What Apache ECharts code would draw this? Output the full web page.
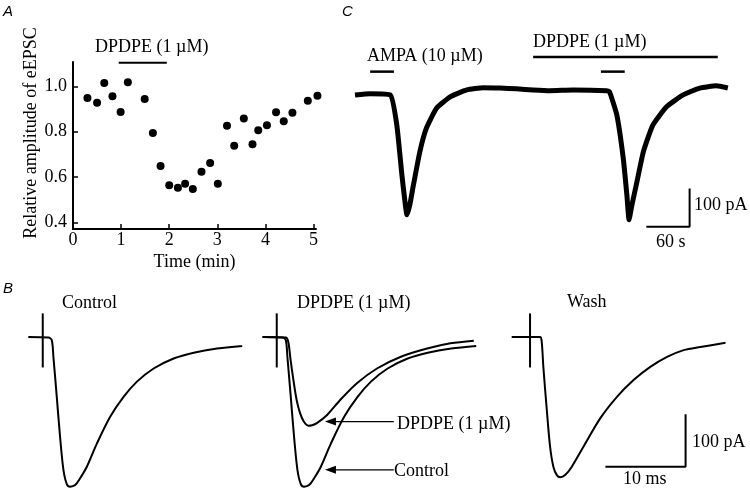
<!DOCTYPE html>
<html>
<head>
<meta charset="utf-8">
<script src="https://cdn.jsdelivr.net/npm/echarts@6/dist/echarts.min.js"></script>
<style>
  html, body { margin: 0; padding: 0; background: #fff; }
  #chart { width: 750px; height: 494px; }
</style>
</head>
<body>
<div id="chart"></div>
<script>
// ---- Panel A: relative eEPSC amplitude over time ----
var timeMin = [0.30, 0.50, 0.65, 0.82, 0.99, 1.14, 1.49, 1.66, 1.82, 2.00, 2.18, 2.33, 2.49, 2.67,
  2.85, 3.01, 3.20, 3.35, 3.55, 3.73, 3.85, 4.03, 4.22, 4.38, 4.56, 4.88, 5.08];
var relAmp = [0.949, 0.928, 1.015, 0.956, 0.887, 1.018, 0.944, 0.795, 0.649, 0.565, 0.554, 0.571, 0.548, 0.624,
  0.662, 0.571, 0.826, 0.738, 0.858, 0.745, 0.807, 0.829, 0.886, 0.846, 0.884, 0.936, 0.958];
var xTicksA = [0, 1, 2, 3, 4, 5];
var yTicksA = [0.4, 0.6, 0.8, 1.0];
var drugBarA = [0.95, 1.95];
var drugBarAY = 1.104;

// ---- Panel C: AMPA-evoked current (s, pA) ----
var cTime = [0, 21, 49, 58, 65, 69, 72, 76, 81, 90, 99, 113, 132, 155, 178, 201, 224, 247, 270, 302,
  349, 353, 363, 372, 377, 380, 384, 390, 400, 413, 432, 455, 478, 501, 517];
var cCurrent = [0, 3, 0, -79, -209, -275, -314, -288, -236, -148, -87, -35, -5, 13, 19, 18, 16, 13, 11, 13,
  11, 8, -52, -166, -262, -327, -288, -236, -148, -79, -31, 0, 18, 24, 18];
var ampaBars = [[21, 54], [341, 374]];
var ampaBarY = 61;
var drugBarC = [247, 503];
var drugBarCY = 99;
var scaleC = { t0: 404, t1: 464, i0: -345, i1: -245 };

// ---- Panel B: eEPSC traces (ms, pA) ----
var ctrlT = [-1.8, 0.7, 1.13, 1.33, 1.75, 2.16, 2.58, 3.0, 3.41, 4.04, 4.66, 5.5, 6.75, 8.41, 10.08,
  11.75, 13.83, 16.33, 18.83, 21.75, 24.88];
var ctrlI = [0, -1, -6, -38, -114, -190, -253, -280, -285, -282, -269, -247, -203, -152, -114,
  -85, -60, -41, -30, -22, -17];
var drugT = [-1.68, 1.16, 1.45, 1.73, 2.08, 2.48, 2.91, 3.41, 3.95, 4.41, 5.0, 6.25, 7.91, 10.0, 12.5,
  15.41, 18.75, 21.66, 24.58];
var drugI = [0, -1, -10, -44, -82, -120, -145, -162, -169, -168, -164, -149, -120, -88, -60,
  -38, -22, -12, -7];
var washT = [-2.29, 1.25, 1.46, 1.66, 2.09, 2.5, 2.91, 3.34, 3.75, 4.38, 5.21, 6.66, 8.75, 10.84,
  12.91, 15.0, 17.09, 19.16, 21.25, 24.38];
var washI = [0, 0, -10, -57, -139, -209, -247, -263, -267, -263, -247, -209, -155, -114,
  -82, -57, -38, -25, -19, -11];
var artifactI = [45, -58];
var arrowT = [14.6, 6.7];
var arrowI = [-161, -253];
var scaleB = { t0: 9.4, t1: 19.4, i0: -247, i1: -147 };

function zip(xs, ys) {
  return xs.map(function (x, i) { return [x, ys[i]]; });
}

var serif = '"Liberation Serif", "Times New Roman", serif';
var ink = '#000';

function txt(s, x, y, extra) {
  var o = {
    type: 'text', x: x, y: y,
    style: { text: s, fill: ink, font: '18px ' + serif, verticalAlign: 'middle', align: 'left' }
  };
  if (extra) { for (var k in extra) o.style[k] = extra[k]; }
  return o;
}
function letter(s, x, y) {
  return { type: 'text', x: x, y: y,
    style: { text: s, fill: ink, font: 'italic 15px "Liberation Sans", Arial, sans-serif', verticalAlign: 'top' } };
}
function plain(idx, data, w, extra) {
  var s = {
    type: 'line', xAxisIndex: idx, yAxisIndex: idx, data: data, showSymbol: false, symbol: 'none',
    lineStyle: { color: ink, width: w }, clip: false, silent: true, animation: false
  };
  if (extra) { for (var k in extra) s[k] = extra[k]; }
  return s;
}
function hiddenAxis(min, max, idx) {
  return { type: 'value', gridIndex: idx, min: min, max: max, show: false };
}

var bGrids = [22.7, 256.7, 510];
var grids = [
  { left: 73, top: 62, width: 243, height: 167 },
  { left: 355, top: 30, width: 375, height: 220 }
];
bGrids.forEach(function (l) { grids.push({ left: l, top: 300, width: 228.5, height: 194 }); });

var xAxes = [
  {
    type: 'value', gridIndex: 0, min: 0, max: 5.05,
    axisLine: { lineStyle: { color: ink, width: 2 } },
    axisTick: { inside: true, length: 5, customValues: xTicksA, lineStyle: { color: ink, width: 1.5 } },
    axisLabel: { customValues: xTicksA, color: ink, fontFamily: serif, fontSize: 18, margin: 2 },
    splitLine: { show: false },
    name: 'Time (min)', nameLocation: 'middle', nameGap: 24,
    nameTextStyle: { color: ink, fontFamily: serif, fontSize: 18 }
  },
  hiddenAxis(0, 520, 1)
];
var yAxes = [
  {
    type: 'value', gridIndex: 0, min: 0.372, max: 1.107,
    axisLine: { show: true, lineStyle: { color: ink, width: 2 } },
    axisTick: { show: true, inside: true, length: 5, customValues: yTicksA, lineStyle: { color: ink, width: 1.5 } },
    axisLabel: { customValues: yTicksA, color: ink, fontFamily: serif, fontSize: 18, margin: 6,
      formatter: function (v) { return v.toFixed(1); } },
    splitLine: { show: false }
  },
  hiddenAxis(-406, 170, 1)
];
[2, 3, 4].forEach(function (i) {
  xAxes.push(hiddenAxis(-2.5, 26, i));
  yAxes.push(hiddenAxis(-299, 70.5, i));
});

function arrowLine(idx, y) {
  return plain(idx, [[arrowT[0], y], { value: [arrowT[1], y], symbol: 'triangle', symbolSize: [8, 11], symbolRotate: 90 }], 1.2,
    { showSymbol: true, itemStyle: { color: ink } });
}

var series = [
  {
    type: 'scatter', xAxisIndex: 0, yAxisIndex: 0, data: zip(timeMin, relAmp),
    symbol: 'circle', symbolSize: 8, itemStyle: { color: ink, opacity: 1 }, clip: false, silent: true
  },
  plain(0, [[drugBarA[0], drugBarAY], [drugBarA[1], drugBarAY]], 2),
  // panel C
  plain(1, zip(cTime, cCurrent), 5, { smooth: 0.15, lineStyle: { color: ink, width: 5, join: 'round' } }),
  plain(1, [[ampaBars[0][0], ampaBarY], [ampaBars[0][1], ampaBarY]], 2.5),
  plain(1, [[ampaBars[1][0], ampaBarY], [ampaBars[1][1], ampaBarY]], 2.5),
  plain(1, [[drugBarC[0], drugBarCY], [drugBarC[1], drugBarCY]], 2.5),
  plain(1, [[scaleC.t0, scaleC.i0], [scaleC.t1, scaleC.i0], [scaleC.t1, scaleC.i1]], 2),
  // panel B
  plain(2, zip(ctrlT, ctrlI), 2, { smooth: 0.3 }),
  plain(2, [[0, artifactI[0]], [0, artifactI[1]]], 2),
  plain(3, zip(ctrlT, ctrlI), 2, { smooth: 0.3 }),
  plain(3, zip(drugT, drugI), 2, { smooth: 0.3 }),
  plain(3, [[0, artifactI[0]], [0, artifactI[1]]], 2),
  arrowLine(3, arrowI[0]),
  arrowLine(3, arrowI[1]),
  plain(4, zip(washT, washI), 2, { smooth: 0.3 }),
  plain(4, [[0, artifactI[0]], [0, artifactI[1]]], 2),
  plain(4, [[scaleB.t0, scaleB.i0], [scaleB.t1, scaleB.i0], [scaleB.t1, scaleB.i1]], 2)
];

var graphics = [
  letter('A', 3, 4), letter('C', 342, 4), letter('B', 3, 281),
  { type: 'text', x: 31, y: 133, rotation: Math.PI / 2,
    style: { text: 'Relative amplitude of eEPSC', fill: ink, font: '18px ' + serif, align: 'center', verticalAlign: 'middle' } },
  txt('DPDPE (1 \u00b5M)', 95, 47),
  txt('AMPA (10 \u00b5M)', 367, 56),
  txt('DPDPE (1 \u00b5M)', 533, 42),
  txt('100 pA', 694, 205),
  txt('60 s', 656, 242),
  txt('Control', 62, 303),
  txt('DPDPE (1 \u00b5M)', 297, 303),
  txt('Wash', 567, 302),
  txt('DPDPE (1 \u00b5M)', 397, 424),
  txt('Control', 394, 471),
  txt('100 pA', 692, 442),
  txt('10 ms', 623, 479)
];

var chart = echarts.init(document.getElementById('chart'), null, { renderer: 'canvas' });
chart.setOption({
  animation: false,
  backgroundColor: '#fff',
  grid: grids,
  xAxis: xAxes,
  yAxis: yAxes,
  series: series,
  graphic: graphics
});
window.addEventListener('resize', function () { chart.resize(); });
</script>
</body>
</html>
